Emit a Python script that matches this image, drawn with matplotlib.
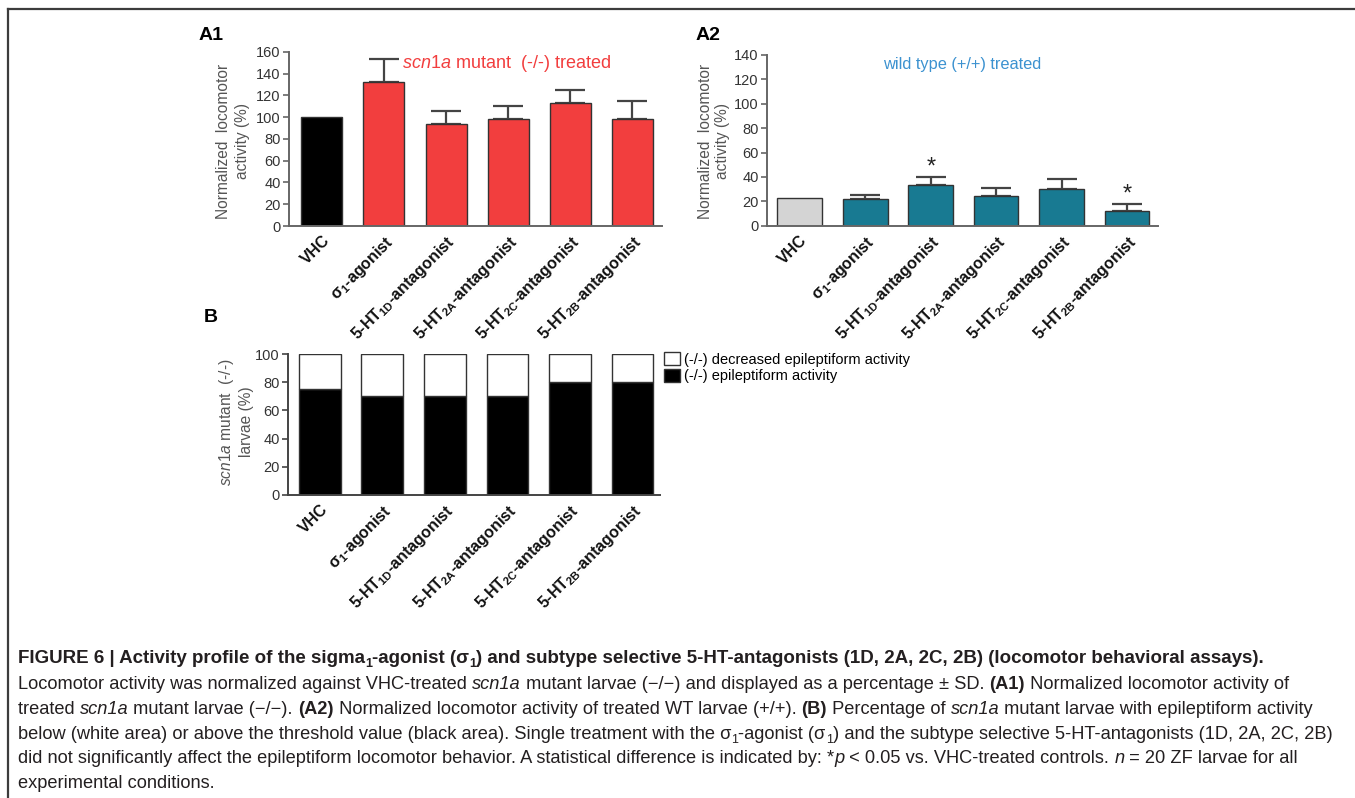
import matplotlib
matplotlib.use("Agg")
import matplotlib.pyplot as plt
from matplotlib.lines import Line2D
from matplotlib.patches import Rectangle

# ---------------- data ----------------
categories = ["VHC", "σ1-agonist", "5-HT1D-antagonist", "5-HT2A-antagonist",
              "5-HT2C-antagonist", "5-HT2B-antagonist"]
tick_labels = ["VHC", r"σ$_\mathbf{1}$-agonist", r"5-HT$_\mathbf{1D}$-antagonist",
               r"5-HT$_\mathbf{2A}$-antagonist", r"5-HT$_\mathbf{2C}$-antagonist",
               r"5-HT$_\mathbf{2B}$-antagonist"]
a1_mean = [100, 132, 94, 98, 113, 98]
a1_sd = [0, 22, 12, 12, 12, 17]
a2_mean = [23, 22, 33, 24, 30, 12]
a2_sd = [0, 3.5, 7, 7, 8.5, 6]
a2_significant = [False, False, True, False, False, True]
b_epileptiform = [75, 70, 70, 70, 80, 80]
b_decreased = [25, 30, 30, 30, 20, 20]
a1_yticks = [0, 20, 40, 60, 80, 100, 120, 140, 160]
a2_yticks = [0, 20, 40, 60, 80, 100, 120, 140]
b_yticks = [0, 20, 40, 60, 80, 100]
legend_labels = ["(-/-) decreased epileptiform activity", "(-/-) epileptiform activity"]

# ---------------- style ----------------
W, H, DPI = 1355, 798, 100
PT = DPI / 72.0
plt.rcParams["font.family"] = ["Liberation Sans", "DejaVu Sans"]
plt.rcParams["mathtext.fontset"] = "custom"
plt.rcParams["mathtext.rm"] = "Liberation Sans"
plt.rcParams["mathtext.it"] = "Liberation Sans:italic"
plt.rcParams["mathtext.bf"] = "Liberation Sans:bold"
CAPTION_FONT = ["Liberation Sans", "DejaVu Sans"]

RED = "#F23E3E"
TEAL = "#187A92"
GREY = "#D4D4D4"
SPINE = "#666666"

fig = plt.figure(figsize=(W / DPI, H / DPI), dpi=DPI)
fig.patch.set_facecolor("white")


def px_axes(x0, x1, y0, y1):
    return fig.add_axes([x0 / W, 1 - y1 / H, (x1 - x0) / W, (y1 - y0) / H])


def style_axes(ax, yticks, ymax, color=SPINE):
    for s in ("top", "right"):
        ax.spines[s].set_visible(False)
    for s in ("left", "bottom"):
        ax.spines[s].set_color(color)
        ax.spines[s].set_linewidth(1.4)
    ax.set_ylim(0, ymax)
    ax.set_yticks(yticks)
    ax.tick_params(axis="y", length=4, width=1.2, color=color, labelsize=10.5,
                   labelcolor="#333333", pad=2)
    ax.set_xticks(range(len(tick_labels)))
    ax.set_xticklabels(tick_labels, rotation=45, ha="right", va="top",
                       rotation_mode="anchor", fontweight="bold", fontsize=11.5,
                       color="#111111")
    ax.tick_params(axis="x", length=0, pad=5)
    ax.set_facecolor("none")


x = list(range(len(categories)))

# ---------------- A1 ----------------
ax1 = px_axes(289, 662, 52, 226)
a1_colors = ["black"] + [RED] * (len(categories) - 1)
ax1.bar(x, a1_mean, width=0.66, color=a1_colors, edgecolor="#333333", linewidth=1.0, zorder=2)
for i in range(len(categories)):
    if a1_sd[i] > 0:
        ax1.errorbar(i, a1_mean[i], yerr=[[0], [a1_sd[i]]], fmt="none", ecolor="#444444",
                     elinewidth=1.6, capsize=11, capthick=1.6, zorder=1)
ax1.set_xlim(-0.53, 5.48)
style_axes(ax1, a1_yticks, 160)

# ---------------- A2 ----------------
ax2 = px_axes(767, 1158, 55, 225.7)
a2_colors = [GREY] + [TEAL] * (len(categories) - 1)
ax2.bar(x, a2_mean, width=0.68, color=a2_colors, edgecolor="#333333", linewidth=1.0, zorder=2)
for i in range(len(categories)):
    if a2_sd[i] > 0:
        ax2.errorbar(i, a2_mean[i], yerr=[[0], [a2_sd[i]]], fmt="none", ecolor="#444444",
                     elinewidth=1.6, capsize=11, capthick=1.6, zorder=1)
    if a2_significant[i]:
        ax2.text(i, a2_mean[i] + a2_sd[i] - 1.5, "*", ha="center", va="bottom",
                 fontsize=17, color="#222222")
ax2.set_xlim(-0.5, 5.47)
style_axes(ax2, a2_yticks, 140)

# ---------------- B ----------------
ax3 = px_axes(288, 660, 354, 495)
ax3.bar(x, b_epileptiform, width=0.67, color="black", edgecolor="#333333", linewidth=1.0,
        zorder=2, label=legend_labels[1])
ax3.bar(x, b_decreased, bottom=b_epileptiform, width=0.67, color="white",
        edgecolor="#333333", linewidth=1.0, zorder=2, label=legend_labels[0])
ax3.set_xlim(-0.51, 5.44)
style_axes(ax3, b_yticks, 100, color="#444444")

handles = [Rectangle((0, 0), 1, 1, facecolor="white", edgecolor="#333333", linewidth=1.0),
           Rectangle((0, 0), 1, 1, facecolor="black", edgecolor="#333333", linewidth=1.0)]
fig.legend(handles, legend_labels, loc="upper left", bbox_to_anchor=(664 / W, 1 - 352 / H),
           frameon=False, borderpad=0, borderaxespad=0, handletextpad=0.25,
           labelspacing=0.15, handlelength=1.1, handleheight=1.0,
           prop={"family": CAPTION_FONT, "size": 10.5})

# ---------------- panel texts ----------------
def ftext(xp, yp, s, **kw):
    return fig.text(xp / W, 1 - yp / H, s, **kw)

ftext(199, 35, "A1", fontsize=14, fontweight="bold", ha="left", va="center")
ftext(696, 35, "A2", fontsize=14, fontweight="bold", ha="left", va="center")
ftext(204, 318, "B", fontsize=14, fontweight="bold", ha="left", va="center")

ftext(506, 64, r"$\mathit{scn1a}$ mutant  (-/-) treated", fontsize=13, color=RED,
      ha="center", va="center")
ftext(962, 64, "wild type (+/+) treated", fontsize=11.8, color="#3C92D0",
      ha="center", va="center")

ylab_kw = dict(rotation=90, ha="center", va="center", multialignment="center",
               fontsize=11.2, color="#555555", linespacing=1.25)
ftext(233, 141, "Normalized  locomotor\nactivity (%)", **ylab_kw)
ftext(714, 141, "Normalized  locomotor\nactivity (%)", **ylab_kw)
ftext(235, 422, r"$\mathit{scn1a}$ mutant  (-/-)" + "\nlarvae (%)", **ylab_kw)

# ---------------- frame ----------------
fig.add_artist(Line2D([8 / W, 1.0], [1 - 9 / H, 1 - 9 / H], transform=fig.transFigure,
                      color="#3c3c3c", linewidth=1.6))
fig.add_artist(Line2D([8 / W, 8 / W], [1 - 9 / H, 0.0], transform=fig.transFigure,
                      color="#3c3c3c", linewidth=1.6))

# ---------------- caption (rich text) ----------------
renderer = fig.canvas.get_renderer()


def seg_kw(st, size):
    sub = "s" in st
    return dict(fontsize=size * 0.68 if sub else size, family=CAPTION_FONT, color="#231f20",
                fontweight="bold" if "b" in st else "normal",
                fontstyle="italic" if "i" in st else "normal")


def text_width(s, kw):
    t1 = fig.text(0, 0, "|" + s + "|", **kw)
    t2 = fig.text(0, 0, "||", **kw)
    w = t1.get_window_extent(renderer).width - t2.get_window_extent(renderer).width
    t1.remove()
    t2.remove()
    return w


def line_width(segs, size):
    return sum(text_width(t, seg_kw(st, size)) for t, st in segs)


def draw_rich(xp, yp, segs, size):
    for txt, st in segs:
        kw = seg_kw(st, size)
        yy = yp + (0.22 * size * PT if "s" in st else 0)
        ftext(xp, yy, txt, ha="left", va="baseline", **kw)
        xp += text_width(txt, kw)
    return xp


caption = [
    [("FIGURE 6 | Activity profile of the sigma", "b"), ("1", "bs"), ("-agonist (σ", "b"),
     ("1", "bs"),
     (") and subtype selective 5-HT-antagonists (1D, 2A, 2C, 2B) (locomotor behavioral assays).", "b")],
    [("Locomotor activity was normalized against VHC-treated ", ""), ("scn1a", "i"),
     (" mutant larvae (−/−) and displayed as a percentage ± SD. ", ""), ("(A1)", "b"),
     (" Normalized locomotor activity of", "")],
    [("treated ", ""), ("scn1a", "i"), (" mutant larvae (−/−). ", ""), ("(A2)", "b"),
     (" Normalized locomotor activity of treated WT larvae (+/+). ", ""), ("(B)", "b"),
     (" Percentage of ", ""), ("scn1a", "i"), (" mutant larvae with epileptiform activity", "")],
    [("below (white area) or above the threshold value (black area). Single treatment with the σ", ""),
     ("1", "s"), ("-agonist (σ", ""), ("1", "s"),
     (") and the subtype selective 5-HT-antagonists (1D, 2A, 2C, 2B)", "")],
    [("did not significantly affect the epileptiform locomotor behavior. A statistical difference is indicated by: *", ""),
     ("p", "i"), (" < 0.05 vs. VHC-treated controls. ", ""), ("n", "i"),
     (" = 20 ZF larvae for all", "")],
    [("experimental conditions.", "")],
]
baselines = [663, 689, 714, 739, 763, 788]
x_start = 18
ref_size = 12.0
body_size = ref_size * (1305 - x_start) / line_width(caption[4], ref_size)
title_size = ref_size * (1263 - x_start) / line_width(caption[0], ref_size)
for k, (segs, yb) in enumerate(zip(caption, baselines)):
    draw_rich(x_start, yb, segs, title_size if k == 0 else body_size)

fig.savefig("out.png", dpi=DPI, facecolor="white")
